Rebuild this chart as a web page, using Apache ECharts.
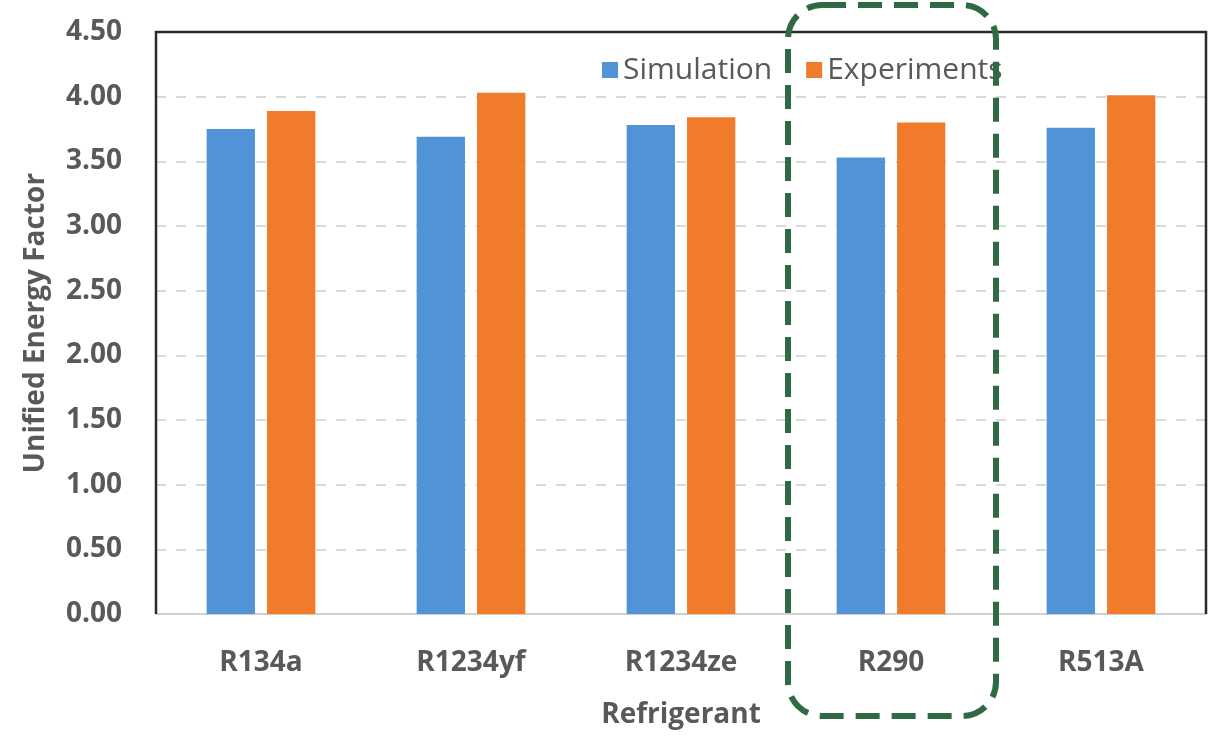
<!DOCTYPE html>
<html>
<head>
<meta charset="utf-8">
<script src="https://cdn.jsdelivr.net/npm/echarts@6/dist/echarts.min.js"></script>
<style>
  html, body { margin: 0; padding: 0; background: #ffffff; }
  #chart { width: 1211px; height: 736px; }
</style>
</head>
<body>
<div id="chart"></div>
<script>
// Refrigerants compared and their unified energy factor
const categories = ['R134a', 'R1234yf', 'R1234ze', 'R290', 'R513A'];
const simulation = [3.75, 3.69, 3.78, 3.53, 3.76];
const experiments = [3.89, 4.03, 3.84, 3.80, 4.01];
const highlighted = 'R290';

const FONT = '"Open Sans", "Noto Sans", sans-serif';
const TEXT = '#595959';
const GRID = { left: 156, top: 32, right: 5, bottom: 122 };

const chart = echarts.init(document.getElementById('chart'));

chart.setOption({
  animation: false,
  backgroundColor: '#ffffff',
  textStyle: { fontFamily: FONT },
  grid: GRID,
  legend: {
    left: 597,
    top: 50,
    itemWidth: 16,
    itemHeight: 16,
    itemGap: 34,
    icon: 'rect',
    textStyle: { fontFamily: FONT, fontSize: 30, color: TEXT, padding: [0, 0, 0, 0] },
    data: ['Simulation', 'Experiments']
  },
  xAxis: {
    type: 'category',
    data: categories,
    name: 'Refrigerant',
    nameLocation: 'middle',
    nameGap: 87,
    nameTextStyle: { fontFamily: FONT, fontSize: 28, fontWeight: 'bold', color: TEXT },
    axisLine: { show: true, lineStyle: { color: '#d0d0d0', width: 2 } },
    axisTick: { show: false },
    axisLabel: { margin: 35, fontFamily: FONT, fontSize: 28, fontWeight: 'bold', color: TEXT }
  },
  yAxis: {
    type: 'value',
    min: 0,
    max: 4.5,
    interval: 0.5,
    name: 'Unified Energy Factor',
    nameLocation: 'middle',
    nameGap: 106,
    nameTextStyle: { fontFamily: FONT, fontSize: 28, fontWeight: 'bold', color: TEXT },
    axisLine: { show: false },
    axisTick: { show: false },
    axisLabel: {
      margin: 34,
      fontFamily: FONT, fontSize: 28, fontWeight: 'bold', color: TEXT,
      formatter: v => v.toFixed(2)
    },
    splitLine: { show: true, lineStyle: { color: '#d9d9d9', width: 2, type: [10, 10] } }
  },
  series: [
    {
      name: 'Simulation',
      type: 'bar',
      data: simulation,
      barWidth: '23%',
      barGap: '25%',
      itemStyle: { color: '#5093d7' }
    },
    {
      name: 'Experiments',
      type: 'bar',
      data: experiments,
      barWidth: '23%',
      itemStyle: { color: '#ef7b2b' }
    }
  ]
});

// Plot frame (top, left and right edges) and the dashed highlight around one refrigerant
function drawOverlay() {
  const w = chart.getWidth();
  const h = chart.getHeight();
  const x0 = GRID.left, x1 = w - GRID.right;
  const y0 = GRID.top, y1 = h - GRID.bottom;
  const idx = categories.indexOf(highlighted);
  const cx = chart.convertToPixel({ xAxisIndex: 0 }, idx);
  const band = (x1 - x0) / categories.length;
  chart.setOption({
    graphic: [
      {
        type: 'polyline',
        z: 10,
        shape: { points: [[x0, y1], [x0, y0], [x1, y0], [x1, y1]] },
        style: { stroke: '#2b2b2b', lineWidth: 2.5, fill: null }
      },
      {
        type: 'rect',
        z: 20,
        shape: { x: cx - band / 2 + 2, y: 5, width: band - 2, height: 711, r: 34 },
        style: { stroke: '#2f6a45', lineWidth: 6, fill: null, lineDash: [24, 12] }
      }
    ]
  });
}
drawOverlay();
</script>
</body>
</html>
